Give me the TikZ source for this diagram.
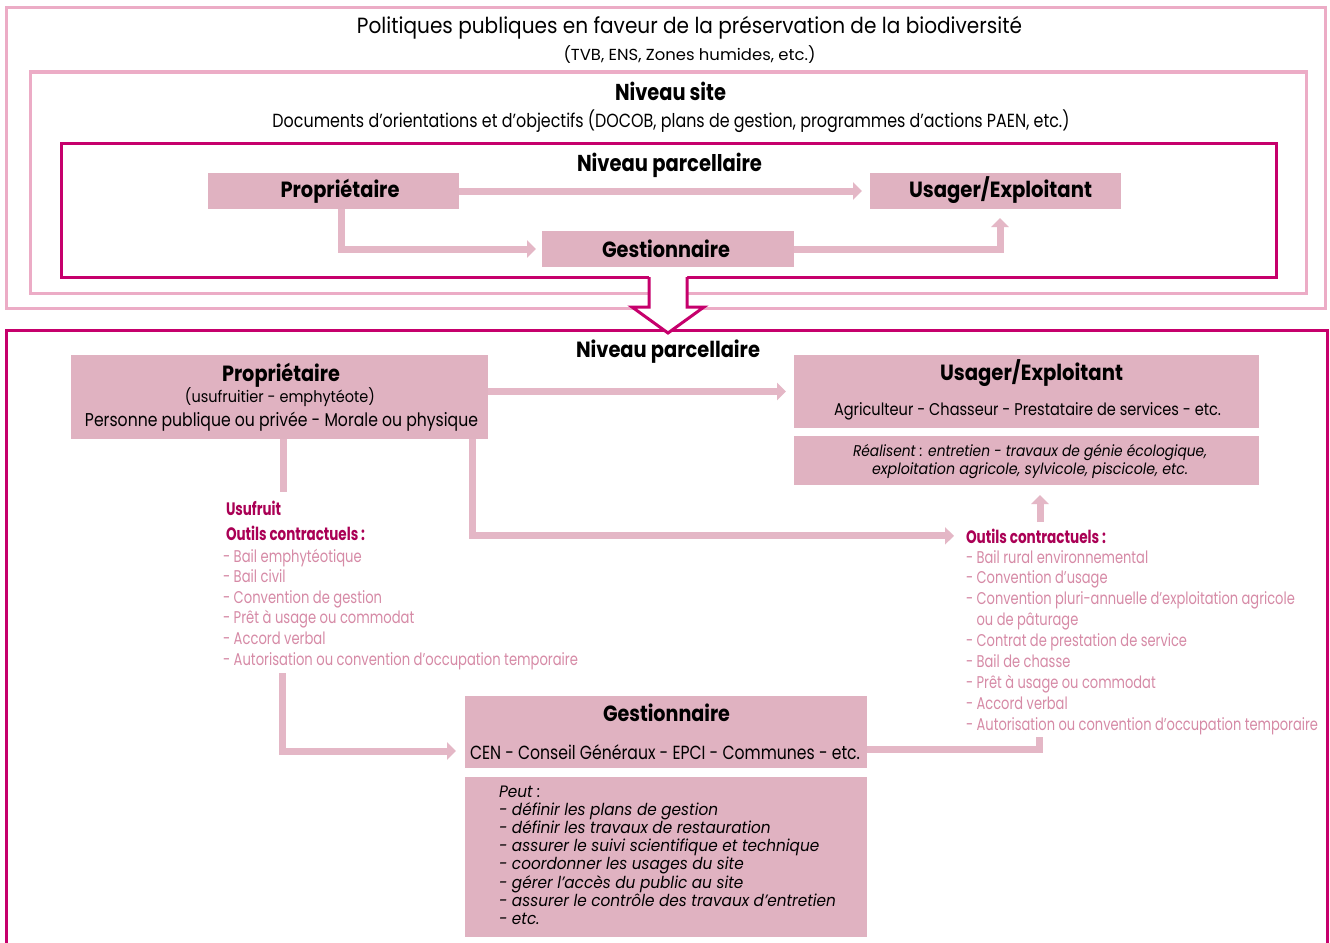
\documentclass[tikz,border=0pt]{standalone}
\usepackage{fontspec}
\setmainfont{Poppins}
\usepackage{graphicx}
\usetikzlibrary{arrows.meta}
\definecolor{boxpink}{RGB}{224,178,193}
\definecolor{arrowpink}{RGB}{228,183,198}
\definecolor{framepink}{RGB}{236,172,198}
\definecolor{mag}{RGB}{198,0,108}
\definecolor{titlemag}{RGB}{170,0,85}
\definecolor{listpink}{RGB}{214,138,166}
\newcommand\fw[3]{\resizebox{#1pt}{\height}{\fontsize{#2}{#2}\selectfont #3}}
\newlength\lenA
\newlength\lenB
\tikzset{
  box/.style={fill=boxpink, draw=none, inner sep=0pt, outer sep=0pt},
  txt/.style={inner sep=0pt, outer sep=0pt, anchor=base},
  conn/.style={draw=arrowpink, line width=7pt},
  arr/.style={conn, -{Triangle[width=17pt,length=9pt]}},
  frameL/.style={draw=framepink, line width=3pt},
  frameM/.style={draw=mag, line width=3pt}
}
\begin{document}
\settowidth\lenA{\fontsize{17}{20}\selectfont - Autorisation ou convention d’occupation temporaire}%
\pgfmathsetmacro\lscR{352/\lenA}%
\pgfmathsetmacro\lscL{355/\lenA}%
\settowidth\lenB{\fontsize{16.5}{18}\selectfont\itshape - assurer le contrôle des travaux d’entretien}%
\pgfmathsetmacro\lscP{337/\lenB}%
\begin{tikzpicture}[x=1pt,y=-1pt]
\useasboundingbox (0,0) rectangle (1330,942);
\fill[white] (0,0) rectangle (1330,942);

% ---- frames (top)
\draw[frameL] (6,8) rectangle (1325,308);
\draw[frameL] (30,72) rectangle (1306,293);
\draw[frameM] (61,143) rectangle (1276,277);
% ---- bottom frame
\draw[frameM] (6,946) -- (6,330) -- (1327,330) -- (1327,946);
% ---- hollow arrow
\fill[white] (649,274) -- (649,307) -- (632,307) -- (668,333) -- (704,307) -- (687,307) -- (687,274) -- cycle;
\draw[frameM, line join=miter] (649,277) -- (649,307) -- (632,307) -- (668,333) -- (704,307) -- (687,307) -- (687,277);

% ---- top texts
\node[txt] (t1) at (689.5,34) {\fw{665}{22}{Politiques publiques en faveur de la préservation de la biodiversité}};
\node[txt] (t2) at (689.5,61) {\fw{252}{16}{(TVB, ENS, Zones humides, etc.)}};
\node[txt] (t3) at (670.5,100) {\fw{111}{23}{\bfseries Niveau site}};
\node[txt] (t4) at (671,127) {\fw{797}{19}{Documents d’orientations et d’objectifs (DOCOB, plans de gestion, programmes d’actions PAEN, etc.)}};
\node[txt] (t5) at (669.5,171) {\fw{185}{23}{\bfseries Niveau parcellaire}};

% ---- top boxes
\node[box, minimum width=251pt, minimum height=36pt] (p1) at (333.5,191) {};
\node[txt] (p1t) at (340,197) {\fw{119}{22}{\bfseries Propriétaire}};
\node[box, minimum width=251pt, minimum height=36pt] (u1) at (995.5,191) {};
\node[txt] (u1t) at (1000.5,197) {\fw{183}{22}{\bfseries Usager/Exploitant}};
\node[box, minimum width=252pt, minimum height=36pt] (g1) at (668,249) {};
\node[txt] (g1t) at (666,257) {\fw{128}{22}{\bfseries Gestionnaire}};

% ---- top connectors
\draw[arr, shorten >=8pt] (p1.east) -- (u1.west);
\draw[arr, shorten >=6pt] ([xshift=7.5pt]p1.south) |- (g1.west);
\draw[arr, shorten >=9pt] (g1.east) -| ([xshift=4.5pt]u1.south);

% ---- bottom texts and boxes
\node[txt] (t6) at (668,357) {\fw{184}{22}{\bfseries Niveau parcellaire}};

\node[box, minimum width=417pt, minimum height=84pt] (p2) at (279.5,397) {};
\node[txt] (p2a) at (281,381) {\fw{118}{22}{\bfseries Propriétaire}};
\node[txt] (p2b) at (280,402) {\fw{190}{16}{(usufruitier - emphytéote)}};
\node[txt] (p2c) at (281.5,426) {\fw{393}{18.5}{Personne publique ou privée - Morale ou physique}};

\node[box, minimum width=465pt, minimum height=73pt] (u2) at (1026.5,391.5) {};
\node[txt] (u2a) at (1031.5,380) {\fw{183}{22}{\bfseries Usager/Exploitant}};
\node[txt] (u2b) at (1027.5,415) {\fw{387}{17}{Agriculteur - Chasseur - Prestataire de services - etc.}};

\node[box, minimum width=465pt, minimum height=49pt] (r2) at (1026.5,460.5) {};
\node[txt] (r2a) at (1030,456) {\fw{354}{15.5}{\itshape Réalisent : entretien - travaux de génie écologique,}};
\node[txt] (r2b) at (1030,474) {\fw{316}{15.5}{\itshape exploitation agricole, sylvicole, piscicole, etc.}};

\node[box, minimum width=402pt, minimum height=72pt] (g2) at (666,732) {};
\node[txt] (g2a) at (666.5,721) {\fw{127}{22}{\bfseries Gestionnaire}};
\node[txt] (g2b) at (665,759) {\fw{390}{19}{CEN - Conseil Généraux - EPCI - Communes - etc.}};

\node[box, minimum width=402pt, minimum height=160pt] (pe) at (666,857) {};
\node[txt, anchor=base west] (pet) at (499,797) {\scalebox{\lscP}[1]{\fontsize{16.5}{18.2}\selectfont\itshape\vtop{%
\hbox{Peut :}
\hbox{- définir les plans de gestion}
\hbox{- définir les travaux de restauration}
\hbox{- assurer le suivi scientifique et technique}
\hbox{- coordonner les usages du site}
\hbox{- gérer l’accès du public au site}
\hbox{- assurer le contrôle des travaux d’entretien}
\hbox{- etc.}}}};

% ---- left list
\node[txt, anchor=base west] (lu) at (226,515) {\fw{55}{18}{\color{titlemag}\bfseries Usufruit}};
\node[txt, anchor=base west] (lt) at (226,540) {\fw{139}{18}{\color{titlemag}\bfseries Outils contractuels :}};
\node[txt, anchor=base west] (ll) at (223,562) {\scalebox{\lscL}[1]{\fontsize{17}{20.6}\selectfont\color{listpink}\vtop{%
\hbox{- Bail emphytéotique}
\hbox{- Bail civil}
\hbox{- Convention de gestion}
\hbox{- Prêt à usage ou commodat}
\hbox{- Accord verbal}
\hbox{- Autorisation ou convention d’occupation temporaire}}}};

% ---- right list
\node[txt, anchor=base west] (rt) at (966,543) {\fw{140}{18}{\color{titlemag}\bfseries Outils contractuels :}};
\node[txt, anchor=base west] (rl) at (966,563) {\scalebox{\lscR}[1]{\fontsize{17}{20.9}\selectfont\color{listpink}\vtop{%
\hbox{- Bail rural environnemental}
\hbox{- Convention d’usage}
\hbox{- Convention pluri-annuelle d’exploitation agricole}
\hbox{\phantom{- }ou de pâturage}
\hbox{- Contrat de prestation de service}
\hbox{- Bail de chasse}
\hbox{- Prêt à usage ou commodat}
\hbox{- Accord verbal}
\hbox{- Autorisation ou convention d’occupation temporaire}}}};

% ---- bottom connectors
\draw[arr, shorten >=8pt] (u2.west -| p2.east) -- (u2.west);
\draw[arr, shorten >=12pt] ([xshift=192.5pt]p2.south) |- (rt.west);
\coordinate (rup) at (1040,522);
\draw[arr, shorten >=10pt] (rup) -- (rup |- r2.south);
\coordinate (lltop) at (283,492);
\draw[conn] ([xshift=3.5pt]p2.south) -- (lltop);
\coordinate (llbot) at (282,673);
\draw[arr, shorten >=9pt] (llbot) |- ([yshift=-19pt]g2.west);
\coordinate (rlbot) at (1039,737);
\draw[conn] ([yshift=-17pt]g2.east) -| (rlbot);
\end{tikzpicture}
\end{document}
